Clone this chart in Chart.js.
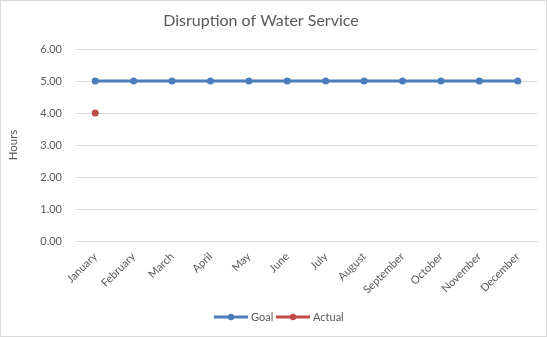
<!DOCTYPE html>
<html>
<head>
<meta charset="utf-8">
<script src="https://cdn.jsdelivr.net/npm/chart.js@4"></script>
<style>
    body { margin: 0; background: #fff; }
    #wrap { position: relative; width: 545px; height: 335px; border: 1px solid #d9d9d9; }
    canvas { position: absolute; left: -1px; top: -1px; }
</style>
</head>
<body>
<div id="wrap"><canvas id="waterChart" width="547" height="337"></canvas></div>
<script>
const months = ['January', 'February', 'March', 'April', 'May', 'June', 'July',
    'August', 'September', 'October', 'November', 'December'];
const goalHours = [5, 5, 5, 5, 5, 5, 5, 5, 5, 5, 5, 5];
const actualHours = [4, null, null, null, null, null, null, null, null, null, null, null];
const yTicks = [0, 1, 2, 3, 4, 5, 6];

const FONT = 'Lato, "Open Sans", sans-serif';
const TEXT = '#595959';
const GOAL_COLOR = '#4a7ebb';
const ACTUAL_COLOR = '#be4b48';

// title + legend drawn by hand, excel style
const excelBits = {
    id: 'excelBits',
    afterDraw(chart) {
        const ctx = chart.ctx;
        ctx.save();
        ctx.fillStyle = TEXT;
        ctx.font = '16px ' + FONT;
        ctx.textAlign = 'center';
        ctx.textBaseline = 'middle';
        ctx.fillText('Disruption of Water Service', 261, 21);

        const items = [
            { label: 'Goal', color: GOAL_COLOR, x: 214 },
            { label: 'Actual', color: ACTUAL_COLOR, x: 276 }
        ];
        const y = 317;
        ctx.font = '11px ' + FONT;
        ctx.textAlign = 'left';
        items.forEach(it => {
            ctx.strokeStyle = it.color;
            ctx.lineWidth = 3;
            ctx.beginPath();
            ctx.moveTo(it.x, y);
            ctx.lineTo(it.x + 34, y);
            ctx.stroke();
            ctx.fillStyle = it.color;
            ctx.beginPath();
            ctx.arc(it.x + 17, y, 3.2, 0, 2 * Math.PI);
            ctx.fill();
            ctx.fillStyle = TEXT;
            ctx.fillText(it.label, it.x + 37, y);
        });
        ctx.restore();
    }
};

new Chart(document.getElementById('waterChart'), {
    type: 'line',
    data: {
        labels: months,
        datasets: [{
            label: 'Goal',
            data: goalHours,
            borderColor: GOAL_COLOR,
            backgroundColor: GOAL_COLOR,
            borderWidth: 3,
            pointRadius: 3.5,
            pointBorderWidth: 0,
            tension: 0
        }, {
            label: 'Actual',
            data: actualHours,
            borderColor: ACTUAL_COLOR,
            backgroundColor: ACTUAL_COLOR,
            borderWidth: 3,
            pointRadius: 3.5,
            pointBorderWidth: 0,
            tension: 0
        }]
    },
    options: {
        responsive: false,
        animation: false,
        layout: { padding: { top: 49, left: 0, right: 10, bottom: 36 } },
        plugins: {
            legend: { display: false },
            title: { display: false },
            tooltip: { enabled: false }
        },
        scales: {
            x: {
                offset: true,
                grid: { display: false, drawTicks: false },
                border: { color: '#d9d9d9' },
                ticks: {
                    color: TEXT,
                    font: { family: FONT, size: 11 },
                    minRotation: 45,
                    maxRotation: 45,
                    padding: 9,
                    autoSkip: false
                },
                afterFit(scale) { scale.height = 60; }
            },
            y: {
                min: yTicks[0],
                max: yTicks[yTicks.length - 1],
                afterBuildTicks(scale) { scale.ticks = yTicks.map(v => ({ value: v })); },
                grid: { color: '#d9d9d9', drawTicks: false },
                border: { display: false },
                ticks: {
                    color: TEXT,
                    font: { family: FONT, size: 11 },
                    padding: 14,
                    callback: v => v.toFixed(2)
                },
                title: {
                    display: true,
                    text: 'Hours',
                    color: TEXT,
                    font: { family: FONT, size: 11.5 },
                    padding: { top: 6, bottom: 0 }
                },
                afterFit(scale) { scale.width = 76; }
            }
        }
    },
    plugins: [excelBits]
});
</script>
</body>
</html>
